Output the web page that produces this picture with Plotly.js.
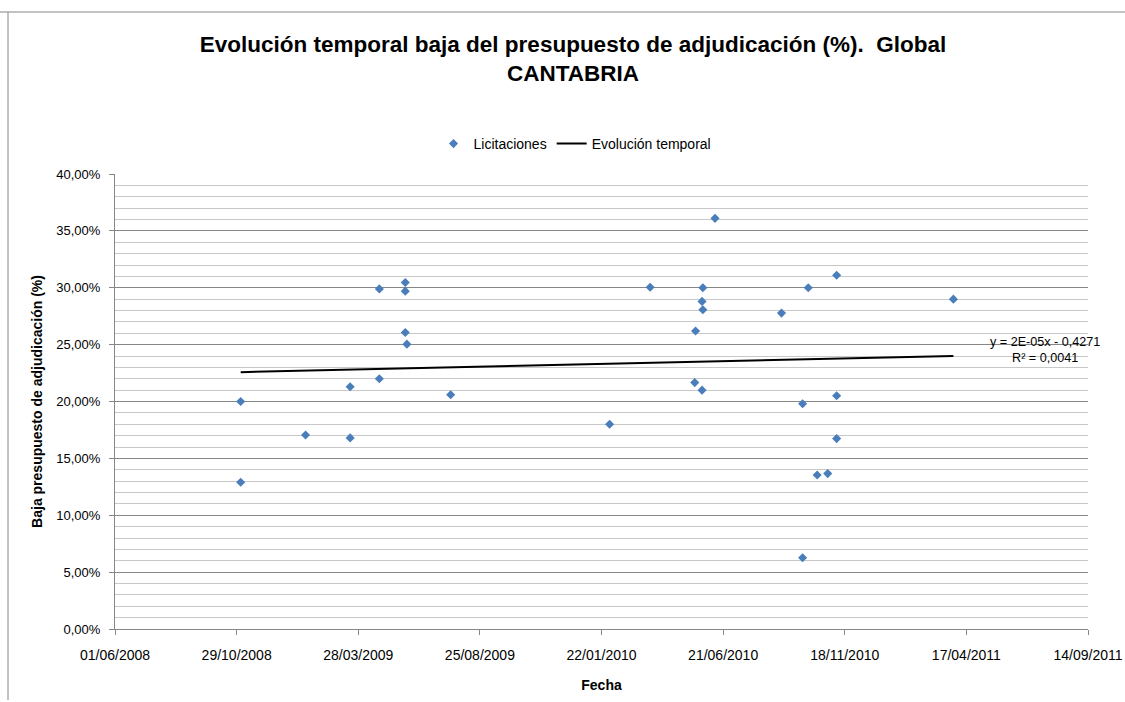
<!DOCTYPE html>
<html>
<head>
<meta charset="utf-8">
<script src="https://cdn.plot.ly/plotly-3.0.1.min.js"></script>
<style>
  html, body { margin: 0; padding: 0; background: #fff; }
  #chart { width: 1125px; height: 702px; }
</style>
</head>
<body>
<div id="chart"></div>
<script>
// Licitaciones (fecha, baja como fracción)
const fechas = ['2008-11-03','2008-11-03','2009-01-22','2009-03-18','2009-03-18','2009-04-23','2009-04-23',
  '2009-05-25','2009-05-25','2009-05-25','2009-05-27','2009-07-20','2010-02-01','2010-03-23',
  '2010-05-18','2010-05-17','2010-05-27','2010-05-26','2010-05-27','2010-05-26','2010-06-11',
  '2010-09-01','2010-09-27','2010-09-27','2010-10-04','2010-10-15','2010-10-28','2010-11-08',
  '2010-11-08','2010-11-08','2011-04-01'];
const bajas = [0.200,0.129,0.1706,0.168,0.213,0.220,0.299,
  0.3046,0.297,0.2606,0.2504,0.206,0.180,0.3005,
  0.262,0.2166,0.300,0.288,0.2806,0.210,0.361,
  0.2777,0.198,0.0627,0.300,0.1354,0.1366,0.311,
  0.205,0.1674,0.290];

// Línea de tendencia (extremos)
const tendenciaFechas = ['2008-11-03','2011-04-01'];
const tendenciaValores = [0.2258, 0.2400];

const ecuacion = 'y = 2E-05x - 0,4271';
const r2 = 'R² = 0,0041';

const FONT = 'Liberation Sans, Arial, sans-serif';
const L = 115, R = 37, T = 174, B = 73, W = 1125, H = 702;
const pw = W - L - R, ph = H - T - B;
const px = v => (v - L) / pw;
const py = v => (H - B - v) / ph;

const traces = [
  {
    x: fechas, y: bajas, type: 'scatter', mode: 'markers', name: 'Licitaciones',
    marker: { symbol: 'diamond', size: 7, color: '#4A7EBB' }
  },
  {
    x: tendenciaFechas, y: tendenciaValores, type: 'scatter', mode: 'lines', name: 'Evolución temporal',
    line: { color: '#000000', width: 2 }
  }
];

const layout = {
  width: W, height: H,
  margin: { l: L, r: R, t: T, b: B },
  paper_bgcolor: '#ffffff', plot_bgcolor: '#ffffff',
  separators: ',.',
  font: { family: FONT, size: 12, color: '#000' },
  title: {
    text: '<b>Evolución temporal baja del presupuesto de adjudicación (%).  Global<br>CANTABRIA</b>',
    font: { family: FONT, size: 22.5, color: '#000' },
    xref: 'paper', x: px(573), xanchor: 'center',
    yref: 'container', y: 1 - 52 / H, yanchor: 'middle'
  },
  showlegend: true,
  legend: {
    orientation: 'h', x: px(575), xanchor: 'center', y: py(144), yanchor: 'middle',
    font: { family: FONT, size: 14, color: '#000' }, bgcolor: 'rgba(0,0,0,0)'
  },
  xaxis: {
    type: 'date',
    range: ['2008-06-01', '2011-09-14'],
    tick0: '2008-06-01', dtick: 150 * 86400000,
    tickformat: '%d/%m/%Y',
    ticks: 'outside', ticklen: 5, tickcolor: '#868686',
    ticklabelstandoff: 8,
    showline: true, linecolor: '#868686', linewidth: 1,
    showgrid: false, zeroline: false,
    tickfont: { family: FONT, size: 14, color: '#000' },
    title: { text: '<b>Fecha</b>', font: { family: FONT, size: 14, color: '#000' }, standoff: 18 }
  },
  yaxis: {
    range: [0, 0.40], dtick: 0.05, tick0: 0,
    tickformat: '.2%',
    ticks: 'outside', ticklen: 5, tickcolor: '#868686',
    ticklabelstandoff: 6,
    showline: true, linecolor: '#868686', linewidth: 1,
    showgrid: true, gridcolor: '#868686', gridwidth: 1,
    zeroline: false,
    minor: { dtick: 0.01, showgrid: true, gridcolor: '#C8C8C8', gridwidth: 1, ticks: '' },
    tickfont: { family: FONT, size: 13, color: '#000' },
    title: { text: '<b>Baja presupuesto de adjudicación (%)</b>', font: { family: FONT, size: 14, color: '#000' }, standoff: 10 }
  },
  annotations: [
    {
      xref: 'paper', yref: 'paper', x: px(1045), y: py(350),
      xanchor: 'center', yanchor: 'middle', showarrow: false, align: 'center',
      text: ecuacion + '<br>' + r2,
      font: { family: FONT, size: 12.6, color: '#000' }
    }
  ],
  shapes: [
    { type: 'line', xref: 'paper', yref: 'paper', x0: px(0), x1: px(1125), y0: py(12), y1: py(12),
      line: { color: '#868686', width: 1 } },
    { type: 'line', xref: 'paper', yref: 'paper', x0: px(8), x1: px(8), y0: py(12), y1: py(700),
      line: { color: '#868686', width: 1 } }
  ]
};

Plotly.newPlot('chart', traces, layout, { displayModeBar: false, staticPlot: true });
</script>
</body>
</html>
